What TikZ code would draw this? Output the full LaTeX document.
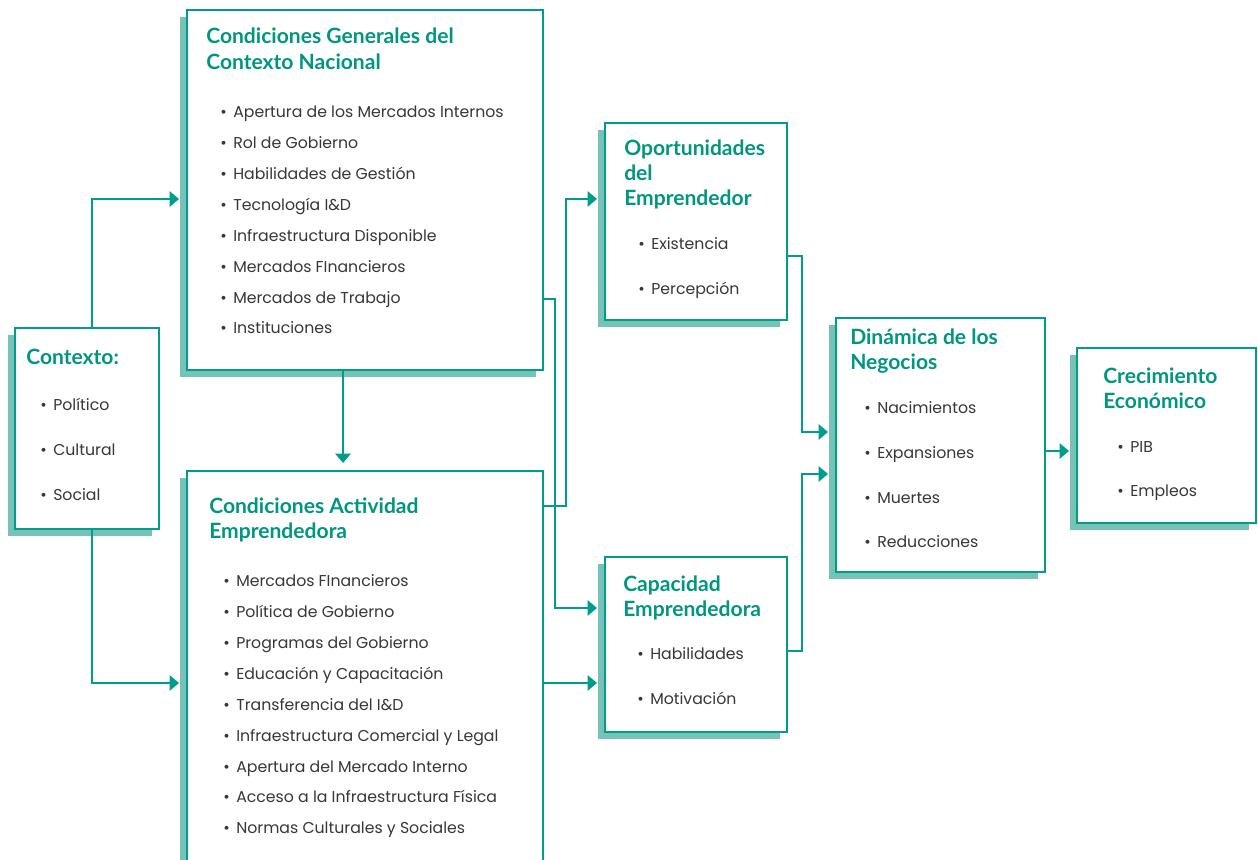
\documentclass[tikz,border=0pt]{standalone}
\usepackage{fontspec}
\setmainfont{Poppins}
\newfontfamily\headfont{Lato}
\usetikzlibrary{arrows.meta,shadows}

\definecolor{lineteal}{RGB}{0,158,138}
\definecolor{shade}{RGB}{118,194,182}
\definecolor{headteal}{RGB}{0,150,128}
\definecolor{bodygray}{RGB}{55,55,55}

\newcommand\itm[1]{\makebox[9.75pt][l]{•}#1}

\begin{document}
\begin{tikzpicture}[x=0.75pt, y=-0.75pt]
            \useasboundingbox (0,0) rectangle (1258,860);

            % boxes
            \begin{scope}[every node/.style={draw=lineteal, line width=1.5pt, fill=white, inner sep=0,
                general shadow={fill=shade, shadow xshift=-5.25pt, shadow yshift=-5.25pt}}]
                \node[minimum width=108pt, minimum height=150.75pt] (ctx) at (87,428.5) {};
                \node[minimum width=267pt, minimum height=270pt] (cgcn) at (365,190) {};
                \node[minimum width=267pt, minimum height=321.75pt] (cae) at (365,685.5) {};
                \node[minimum width=136.5pt, minimum height=147.75pt] (opp) at (696,221.5) {};
                \node[minimum width=136.5pt, minimum height=131.25pt] (cap) at (696,644.5) {};
                \node[minimum width=156.75pt, minimum height=190.5pt] (din) at (940.5,445) {};
                \node[minimum width=134.25pt, minimum height=131.25pt] (cre) at (1166.5,435.5) {};
            \end{scope}

            % texts
            \begin{scope}[every node/.style={anchor=west, inner sep=0, text depth=0pt},
                head/.style={font=\headfont\bfseries\fontsize{15.8}{18}\selectfont, text=headteal, text height=11.3pt},
                item/.style={font=\fontsize{11.8}{14}\selectfont, text=bodygray, text height=8.4pt}]
                \node[head] (ctx-t) at (26,357) {Contexto:};
                \foreach \t [count=\i from 0] in {Político, Cultural, Social}
                    \node[item] (ctx-\i) at (40,{405+45*\i}) {\itm{\t}};

                \node[head] (cgcn-t1) at (206,36) {Condiciones Generales del};
                \node[head] (cgcn-t2) at (206,62) {Contexto Nacional};
                \foreach \t [count=\i from 0] in {Apertura de los Mercados Internos, Rol de Gobierno,
                    Habilidades de Gestión, Tecnología I\&D, Infraestructura Disponible,
                    Mercados FInancieros, Mercados de Trabajo, Instituciones}
                    \node[item] (cgcn-\i) at (220,{112+30.9*\i}) {\itm{\t}};

                \node[head] (cae-t1) at (209,506) {Condiciones Actividad};
                \node[head] (cae-t2) at (209,531) {Emprendedora};
                \foreach \t [count=\i from 0] in {Mercados FInancieros, Política de Gobierno,
                    Programas del Gobierno, Educación y Capacitación, Transferencia del I\&D,
                    Infraestructura Comercial y Legal, Apertura del Mercado Interno,
                    Acceso a la Infraestructura Física, Normas Culturales y Sociales}
                    \node[item] (cae-\i) at (223,{581+30.9*\i}) {\itm{\t}};

                \node[head] (opp-t1) at (624,148) {Oportunidades};
                \node[head] (opp-t2) at (624,173) {del};
                \node[head] (opp-t3) at (624,198) {Emprendedor};
                \node[item] (opp-0) at (638,244) {\itm{Existencia}};
                \node[item] (opp-1) at (638,289) {\itm{Percepción}};

                \node[head] (cap-t1) at (623,584) {Capacidad};
                \node[head] (cap-t2) at (623,609) {Emprendedora};
                \node[item] (cap-0) at (637,654) {\itm{Habilidades}};
                \node[item] (cap-1) at (637,699) {\itm{Motivación}};

                \node[head] (din-t1) at (850,337) {Dinámica de los};
                \node[head] (din-t2) at (850,362) {Negocios};
                \foreach \t [count=\i from 0] in {Nacimientos, Expansiones, Muertes, Reducciones}
                    \node[item] (din-\i) at (864,{408+44.7*\i}) {\itm{\t}};

                \node[head] (cre-t1) at (1103,376) {Crecimiento};
                \node[head] (cre-t2) at (1103,401) {Económico};
                \node[item] (cre-0) at (1117,447) {\itm{PIB}};
                \node[item] (cre-1) at (1117,491) {\itm{Empleos}};
            \end{scope}

            % connectors
            \begin{scope}[draw=lineteal, line width=1.1pt, shorten >=5.25pt,
                -{Triangle[length=7pt, width=11.5pt]}]
                \draw (ctx.north -| 92,0) |- (cgcn.west |- 0,199);
                \draw (ctx.south -| 92,0) |- (cae.west |- 0,683);
                \draw (cgcn.south -| 343,0) -- (cae.north -| 343,0);
                \draw (cgcn.east |- 0,299) -| (555,608) -- (cap.west |- 0,608);
                \draw (cae.east |- 0,506) -| (566,199) -- (opp.west |- 0,199);
                \draw (cae.east |- 0,683) -- (cap.west |- 0,683);
                \draw (opp.east |- 0,256) -| (802,432) -- (din.west |- 0,432);
                \draw (cap.east |- 0,651) -| (802,474) -- (din.west |- 0,474);
                \draw (din.east |- 0,451) -- (cre.west |- 0,451);
            \end{scope}
        \end{tikzpicture}
\end{document}
